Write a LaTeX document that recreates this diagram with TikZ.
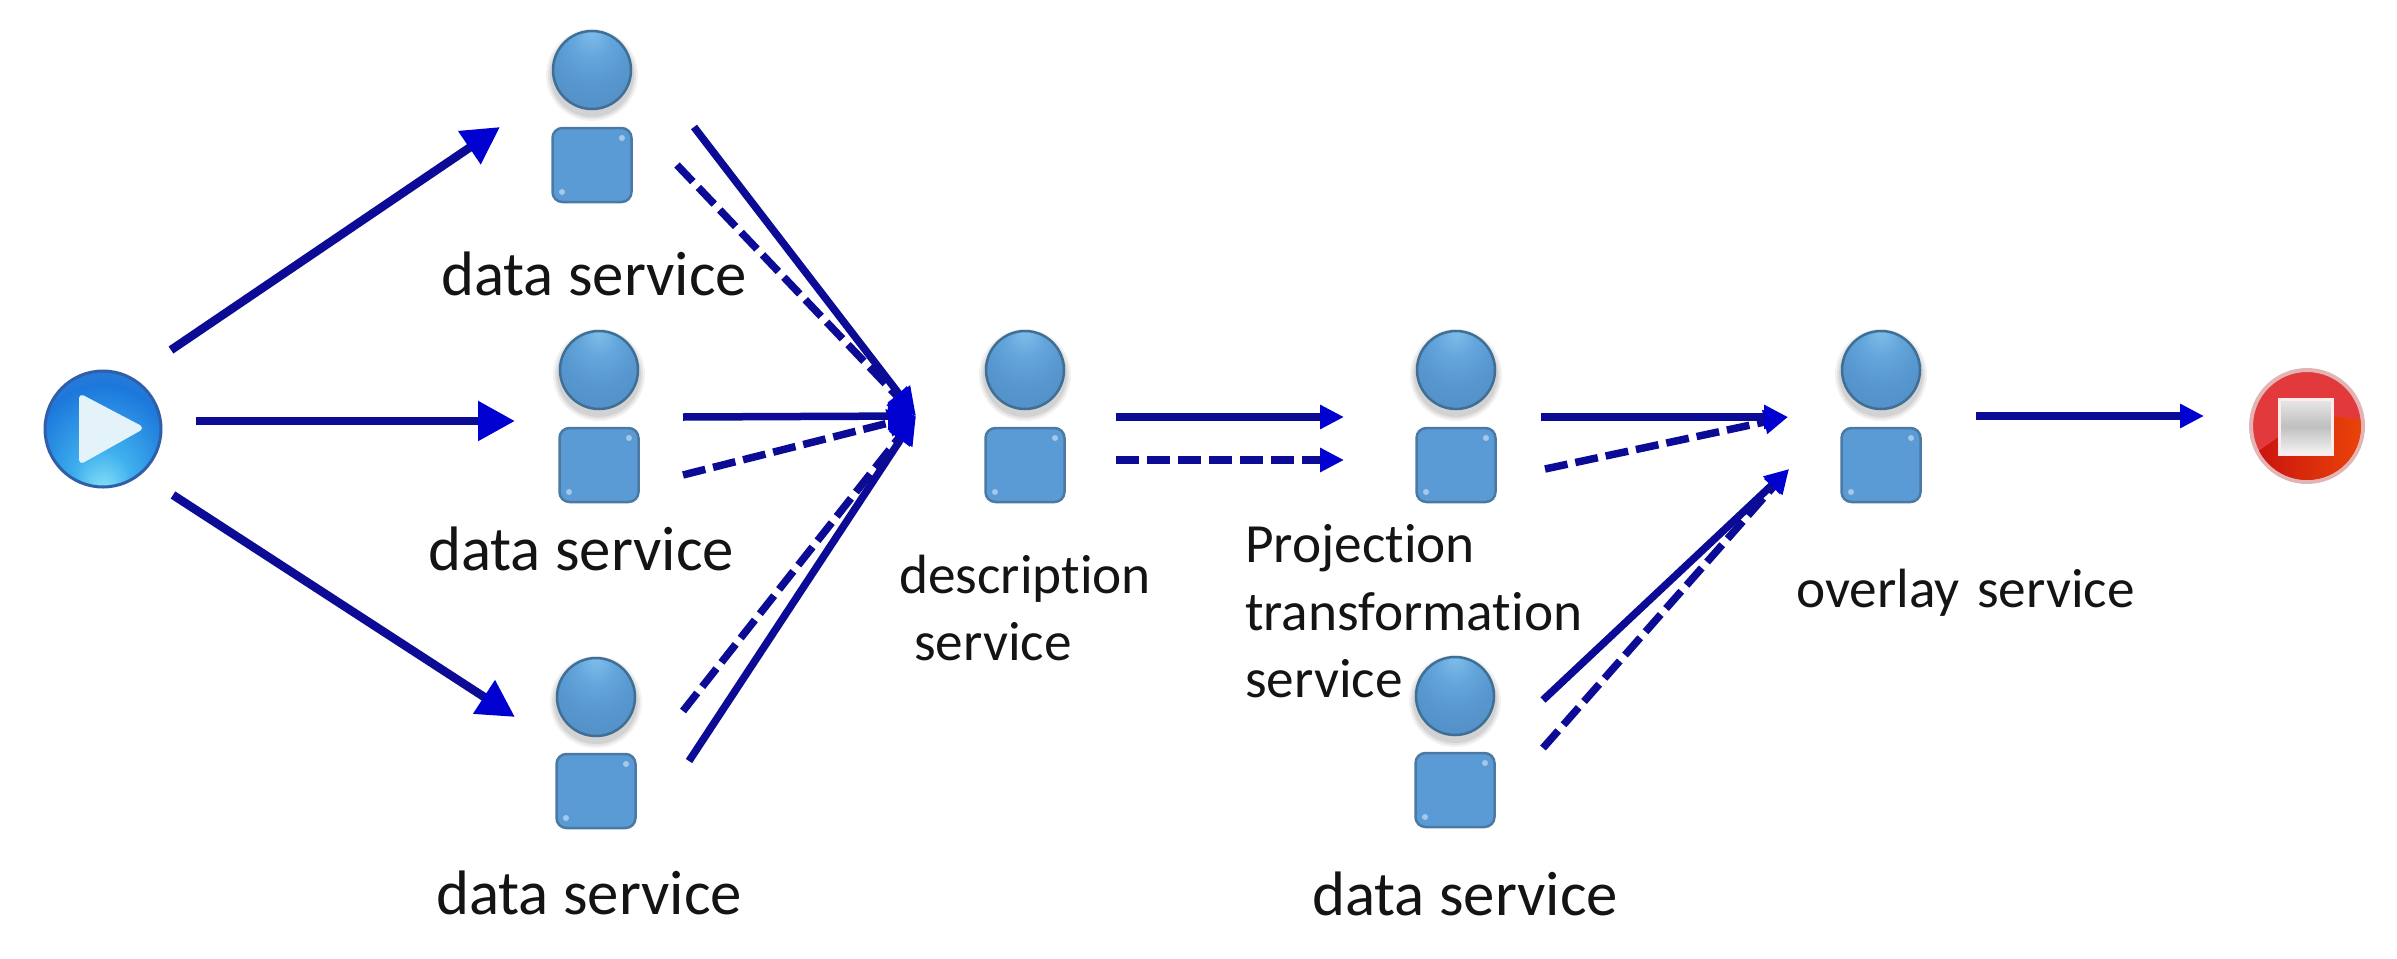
\documentclass[tikz,border=0pt]{standalone}
\usepackage{fontspec}
\setmainfont[Ligatures=NoCommon]{Carlito}
\usetikzlibrary{arrows.meta,calc}
\definecolor{linec}{HTML}{0B0B96}
\definecolor{headc}{HTML}{0000D0}
\definecolor{pblue}{HTML}{5B9BD5}
\definecolor{pedge}{HTML}{4A7AA3}
\definecolor{hedge}{HTML}{3F6F95}
\definecolor{pa}{HTML}{80BEEA}
\definecolor{pb}{HTML}{64A6DC}
\definecolor{pc}{HTML}{5796CF}
\definecolor{pd}{HTML}{4F88BC}
\definecolor{qa}{HTML}{8FE6F8}
\definecolor{qb}{HTML}{3FB0EE}
\definecolor{qc}{HTML}{1C78DC}
\definecolor{qd}{HTML}{5F80CC}
\definecolor{playedge}{HTML}{2F5FA8}
\definecolor{playtri}{HTML}{E4F3FA}
\definecolor{stopring}{HTML}{E2B4B4}
\definecolor{stopred}{HTML}{E23A3C}
\definecolor{stopdark}{HTML}{C40C10}
\definecolor{stoporange}{HTML}{EE4A08}
\definecolor{txt}{HTML}{141414}
\pgfdeclareradialshading{personball}{\pgfpoint{0bp}{26bp}}{%
  color(0bp)=(pa);color(12bp)=(pb);color(24bp)=(pc);color(50bp)=(pd)}
\pgfdeclareradialshading{playball}{\pgfpoint{0bp}{-28bp}}{%
  color(0bp)=(qa);color(12bp)=(qb);color(30bp)=(qc);color(50bp)=(qd)}
\tikzset{
  x=1pt,y=-1pt,
  headball/.style={circle,draw=hedge,line width=2.5pt,shading=personball,minimum size=78pt,inner sep=0pt},
  bodybox/.style={rectangle,rounded corners=10pt,draw=pedge,line width=2.5pt,fill=pblue,minimum width=79pt,minimum height=74pt,inner sep=0pt},
  lbl/.style={anchor=base west,inner sep=0pt,font=\fontsize{55.3}{55.3}\selectfont,text=txt},
  biglbl/.style={anchor=base west,inner sep=0pt,font=\fontsize{62.8}{62.8}\selectfont,text=txt},
  flow/.style={draw=linec,line width=7.5pt},
  dashflow/.style={flow,dash pattern=on 23pt off 8pt},
  bighead/.style={-{Triangle[length=37pt,width=38pt,color=headc]},line width=8.5pt},
  midhead/.style={-{Triangle[length=28pt,width=26pt,color=headc]}},
  smallhead/.style={-{Triangle[length=24pt,width=23pt,color=headc]}},
}
\newcommand{\personfig}[4]{%
  \foreach \rr/\oo in {46/.05,44/.06,42/.07}{\fill[black,opacity=\oo] (#2,#3+5) circle[radius=\rr pt];}
  \node[headball] (#1head) at (#2,#3) {};
  \node[bodybox] (#1body) at (#2,#4) {};
  \fill[white,opacity=.45] ($(#1body.center)+(30,-27)$) circle[radius=3pt];
  \fill[white,opacity=.45] ($(#1body.center)+(-30,27)$) circle[radius=3pt];
}
\begin{document}
\begin{tikzpicture}
\useasboundingbox (0,0) rectangle (2397,958);
\fill[white] (0,0) rectangle (2397,958);

% start icon
\node[circle,draw=playedge,line width=3pt,minimum size=116pt,inner sep=0pt,shading=playball] (play) at (103,429) {};
\fill[playtri,draw=playtri,line width=6pt,line join=round] (82,398) -- (139,428) -- (82,460) -- cycle;

% stop icon
\node[circle,draw=stopring,line width=4pt,minimum size=112pt,inner sep=0pt,fill=stopred] (stop) at (2307,426) {};
\begin{scope}
  \clip (2307,426) circle[radius=54pt];
  \shade[left color=stopdark,right color=stoporange]
    (2250,458) .. controls (2285,430) and (2330,400) .. (2375,428) -- (2375,490) -- (2240,490) -- cycle;
\end{scope}
\shade[top color=gray!18,bottom color=gray!8,middle color=gray!50,draw=white!92!red,line width=3pt]
  (2279,399) rectangle (2332,454);

% people
\personfig{dsa}{592}{70}{165}
\personfig{dsb}{599}{370}{465}
\personfig{dsc}{596}{697}{791}
\personfig{desc}{1025}{370}{465}
\personfig{proj}{1456}{370}{465}
\personfig{over}{1881}{370}{465}
\personfig{dsd}{1455}{696}{790}

% labels
\node[biglbl] (ldsa) at (441,295) {data service};
\node[biglbl] (ldsb) at (428,570) {data service};
\node[biglbl] (ldsc) at (436,914) {data service};
\node[biglbl] (ldsd) at (1312,915) {data service};
\node[lbl] (ldesca) at (899,593) {description};
\node[lbl] (ldescb) at (914,660) {service};
\node[lbl] (lproja) at (1245,562) {Projection};
\node[lbl] (lprojb) at (1245,630) {transformation};
\node[lbl] (lprojc) at (1245,697) {service};
\node[lbl] (lover) at (1796,607) {overlay\hspace{5pt} service};

% connector ends
\coordinate (playoa) at (171,350);
\coordinate (playob) at (196,421);
\coordinate (playoc) at (173,495);
\coordinate (dsain) at (500,127);
\coordinate (dsbin) at (515,421);
\coordinate (dscin) at (515,717);
\coordinate (dsaos) at (694,127);
\coordinate (dsaod) at (677,165);
\coordinate (dsbos) at (683,417);
\coordinate (dsbod) at (683,475);
\coordinate (dscod) at (683,711);
\coordinate (dscos) at (689,761);
\coordinate (descin) at (916,416);
\coordinate (descos) at (1116,417);
\coordinate (descod) at (1116,460);
\coordinate (projins) at (1344,417);
\coordinate (projind) at (1344,460);
\coordinate (projos) at (1541,417);
\coordinate (projod) at (1545,469);
\coordinate (overina) at (1788,417);
\coordinate (overinb) at (1789,469);
\coordinate (dsdos) at (1543,700);
\coordinate (dsdod) at (1543,748);
\coordinate (overo) at (1976,416);
\coordinate (stopin) at (2204,416);

% connectors
\draw[flow,bighead] (playoa) -- (dsain);
\draw[flow,bighead] (playob) -- (dsbin);
\draw[flow,bighead] (playoc) -- (dscin);
\draw[dashflow,midhead] (dsaod) -- (descin);
\draw[dashflow,midhead] (dsbod) -- (descin);
\draw[dashflow,midhead] (dscod) -- (descin);
\draw[flow,midhead] (dsaos) -- (descin);
\draw[flow,midhead] (dsbos) -- (descin);
\draw[flow,midhead] (dscos) -- (descin);
\draw[flow,smallhead] (descos) -- (projins);
\draw[dashflow,smallhead] (descod) -- (projind);
\draw[dashflow,smallhead] (projod) -- (overina);
\draw[flow,smallhead] (projos) -- (overina);
\draw[dashflow,smallhead] (dsdod) -- (overinb);
\draw[flow,smallhead] (dsdos) -- (overinb);
\draw[flow,smallhead] (overo) -- (stopin);
\end{tikzpicture}
\end{document}
